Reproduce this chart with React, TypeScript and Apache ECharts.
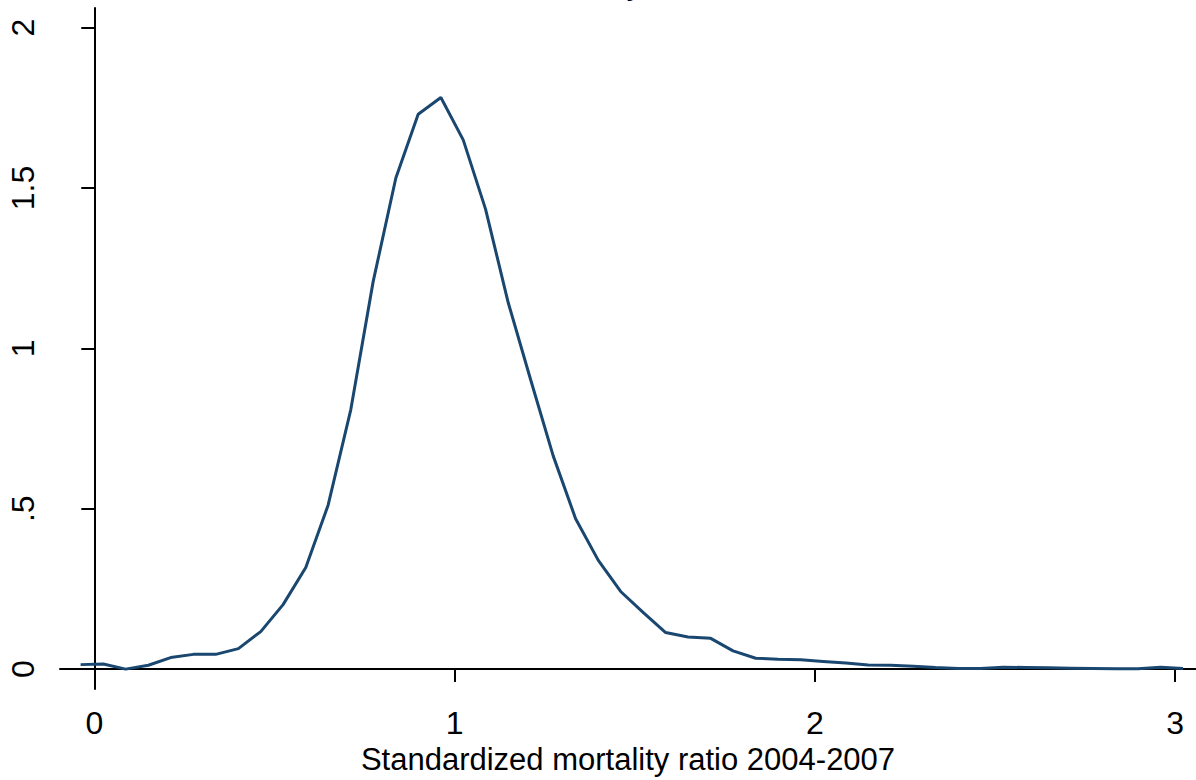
import React, { useEffect, useRef } from "react";
import * as echarts from "echarts";

const xValues = [
  -0.038, 0.025, 0.087, 0.15, 0.212, 0.275, 0.337, 0.4, 0.462, 0.524,
  0.587, 0.649, 0.712, 0.774, 0.837, 0.899, 0.962, 1.024, 1.086, 1.149,
  1.211, 1.274, 1.336, 1.399, 1.461, 1.524, 1.586, 1.648, 1.711, 1.773,
  1.836, 1.898, 1.961, 2.023, 2.086, 2.148, 2.21, 2.273, 2.335, 2.398,
  2.46, 2.523, 2.585, 2.648, 2.71, 2.772, 2.835, 2.897, 2.96, 3.022,
];

const densityValues = [
  0.014, 0.016, 0.0, 0.012, 0.036, 0.046, 0.046, 0.064, 0.117, 0.201,
  0.317, 0.511, 0.809, 1.208, 1.531, 1.73, 1.782, 1.65, 1.434, 1.142,
  0.903, 0.664, 0.469, 0.339, 0.242, 0.176, 0.114, 0.1, 0.096, 0.057,
  0.034, 0.031, 0.029, 0.024, 0.019, 0.013, 0.012, 0.009, 0.005, 0.002,
  0.002, 0.006, 0.005, 0.004, 0.003, 0.002, 0.001, 0.001, 0.006, 0.002,
];

const xTicks = [0, 1, 2, 3];
const xTickLabels = ["0", "1", "2", "3"];
const yTicks = [0, 0.5, 1, 1.5, 2];
const yTickLabels = ["0", ".5", "1", "1.5", "2"];

const titleText = "Kernel density estimate";
const xAxisTitle = "Standardized mortality ratio 2004-2007";

const FONT = "'Liberation Sans', Arial, Helvetica, sans-serif";

export default function App() {
  const ref = useRef<HTMLDivElement>(null);

  useEffect(() => {
    if (!ref.current) return;
    const chart = echarts.init(ref.current, null, { renderer: "svg" });
    const data = xValues.map((x, i) => [x, densityValues[i]]);
    chart.setOption({
      animation: false,
      backgroundColor: "#ffffff",
      textStyle: { fontFamily: FONT },
      graphic: [
        {
          type: "text",
          x: 428,
          y: -1,
          silent: true,
          style: {
            text: titleText,
            fontSize: 34,
            fontFamily: FONT,
            fill: "#000000",
            align: "left",
            verticalAlign: "bottom",
          },
        },
      ],
      grid: { left: 60, right: 0, top: 8, bottom: 90, containLabel: false },
      xAxis: {
        type: "value",
        min: -0.0952,
        max: 3.058,
        name: xAxisTitle,
        nameLocation: "middle",
        nameGap: 52,
        nameTextStyle: { fontSize: 31, color: "#000000", fontFamily: FONT },
        axisLine: { show: true, lineStyle: { color: "#000000", width: 2 } },
        axisTick: {
          show: true,
          length: 13,
          customValues: xTicks,
          lineStyle: { color: "#000000", width: 2 },
        },
        axisLabel: {
          customValues: xTicks,
          fontSize: 32,
          color: "#000000",
          fontFamily: FONT,
          margin: 18,
          formatter: (v: number) => {
            const i = xTicks.indexOf(v);
            return i >= 0 ? xTickLabels[i] : "";
          },
        },
        splitLine: { show: false },
      },
      yAxis: {
        type: "value",
        min: -0.0623,
        max: 2.061,
        axisLine: { show: true, lineStyle: { color: "#000000", width: 2 } },
        axisTick: {
          show: true,
          length: 13,
          customValues: yTicks,
          lineStyle: { color: "#000000", width: 2 },
        },
        axisLabel: {
          customValues: yTicks,
          rotate: 90,
          fontSize: 32,
          color: "#000000",
          fontFamily: FONT,
          margin: 21,
          formatter: (v: number) => {
            const i = yTicks.indexOf(v);
            return i >= 0 ? yTickLabels[i] : "";
          },
        },
        splitLine: { show: false },
      },
      series: [
        {
          type: "line",
          data,
          showSymbol: false,
          smooth: false,
          lineStyle: { color: "#1a476f", width: 3 },
          itemStyle: { color: "#1a476f" },
        },
      ],
    });
    return () => chart.dispose();
  }, []);

  return (
    <div
      ref={ref}
      style={{ position: "fixed", left: 0, top: 0, width: 1196, height: 780, background: "#fff" }}
    />
  );
}
